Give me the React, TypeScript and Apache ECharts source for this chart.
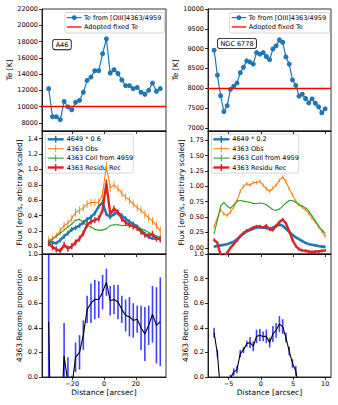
import React, { useEffect, useRef } from "react";
import * as echarts from "echarts";

// ---------- data ----------
const xLeft = [-34.8, -32.4, -30.0, -27.5, -25.1, -22.7, -20.3, -17.9, -15.4, -13.0, -10.6, -8.2, -5.8, -3.3, -0.9, 1.5, 3.9, 6.3, 8.8, 11.2, 13.6, 16.0, 18.4, 20.9, 23.3, 25.7, 28.1, 30.5, 33.0, 35.4];
const teLeft = [12210, 8750, 8750, 8400, 10630, 9960, 9610, 10520, 10760, 11760, 13220, 13630, 14410, 14410, 16500, 18330, 14130, 14530, 14070, 13270, 12570, 12570, 12200, 12360, 11760, 11520, 12000, 12890, 11890, 12210];
const teFixedLeft = 10000;

const xRight = [-7.25, -6.74, -6.24, -5.73, -5.22, -4.72, -4.21, -3.70, -3.19, -2.69, -2.18, -1.67, -1.17, -0.66, -0.15, 0.36, 0.86, 1.37, 1.88, 2.38, 2.89, 3.40, 3.90, 4.41, 4.92, 5.43, 5.93, 6.44, 6.95, 7.45, 7.96, 8.47, 8.97, 9.48, 9.99];
const teRight = [8960, 8330, 7810, 7410, 7560, 7970, 8050, 8130, 8390, 8530, 8690, 8660, 8610, 8900, 8860, 8900, 8800, 8720, 8990, 9070, 9220, 9160, 8790, 8610, 8210, 8070, 7800, 7850, 7740, 7630, 7730, 7620, 7530, 7380, 7480];
const teFixedRight = 8000;

// middle panels (left: A46)
const f4649Left = [0.06, 0.05, 0.04, 0.08, 0.13, 0.17, 0.22, 0.24, 0.27, 0.31, 0.35, 0.38, 0.43, 0.52, 0.57, 0.42, 0.38, 0.42, 0.44, 0.40, 0.36, 0.32, 0.29, 0.26, 0.21, 0.16, 0.12, 0.10, 0.10, 0.12];
const f4649LeftErr = [0.03, 0.02, 0.02, 0.03, 0.03, 0.03, 0.03, 0.03, 0.03, 0.03, 0.03, 0.03, 0.03, 0.03, 0.04, 0.03, 0.03, 0.03, 0.03, 0.03, 0.03, 0.03, 0.03, 0.02, 0.02, 0.02, 0.02, 0.02, 0.02, 0.02];
const fObsLeft = [0.08, 0.10, 0.14, 0.20, 0.27, 0.30, 0.36, 0.44, 0.47, 0.50, 0.55, 0.57, 0.57, 0.57, 0.68, 1.04, 0.76, 0.80, 0.75, 0.69, 0.64, 0.60, 0.55, 0.50, 0.47, 0.42, 0.37, 0.33, 0.27, 0.20];
const fObsLeftErr = [0.05, 0.04, 0.04, 0.05, 0.05, 0.05, 0.05, 0.05, 0.05, 0.05, 0.05, 0.05, 0.05, 0.05, 0.06, 0.06, 0.05, 0.05, 0.05, 0.05, 0.05, 0.05, 0.05, 0.05, 0.05, 0.05, 0.05, 0.05, 0.05, 0.06];
const fCollLeft = [0.06, 0.09, 0.13, 0.17, 0.21, 0.25, 0.29, 0.34, 0.35, 0.31, 0.27, 0.25, 0.22, 0.21, 0.21, 0.23, 0.27, 0.28, 0.28, 0.27, 0.27, 0.27, 0.26, 0.25, 0.23, 0.21, 0.18, 0.16, 0.13, 0.11];
const fCollLeftErr = [0.01, 0.01, 0.01, 0.01, 0.01, 0.01, 0.01, 0.01, 0.01, 0.01, 0.01, 0.01, 0.01, 0.01, 0.01, 0.01, 0.01, 0.01, 0.01, 0.01, 0.01, 0.01, 0.01, 0.01, 0.01, 0.01, 0.01, 0.01, 0.01, 0.01];
const fRecLeft = [0.04, -0.01, -0.04, -0.06, 0.02, -0.03, 0.00, 0.05, 0.10, 0.17, 0.28, 0.32, 0.34, 0.36, 0.47, 0.82, 0.42, 0.49, 0.44, 0.36, 0.31, 0.28, 0.26, 0.24, 0.19, 0.15, 0.14, 0.16, 0.10, 0.09];
const fRecLeftErr = [0.04, 0.04, 0.04, 0.04, 0.04, 0.04, 0.04, 0.04, 0.04, 0.04, 0.04, 0.04, 0.04, 0.04, 0.04, 0.05, 0.04, 0.04, 0.04, 0.04, 0.04, 0.04, 0.04, 0.04, 0.04, 0.04, 0.04, 0.04, 0.04, 0.04];

// middle panels (right: NGC 6778)
const f4649Right = [0.02, 0.03, 0.04, 0.05, 0.06, 0.08, 0.10, 0.14, 0.19, 0.23, 0.27, 0.29, 0.31, 0.33, 0.33, 0.33, 0.32, 0.31, 0.33, 0.35, 0.38, 0.36, 0.31, 0.26, 0.21, 0.17, 0.14, 0.11, 0.08, 0.06, 0.05, 0.04, 0.03, 0.02, 0.02];
const f4649RightErr = [0.01, 0.01, 0.01, 0.01, 0.01, 0.01, 0.01, 0.01, 0.01, 0.01, 0.01, 0.01, 0.01, 0.01, 0.01, 0.01, 0.01, 0.01, 0.01, 0.01, 0.01, 0.01, 0.01, 0.01, 0.01, 0.01, 0.01, 0.01, 0.01, 0.01, 0.01, 0.01, 0.01, 0.01, 0.01];
const fObsRight = [0.35, 0.48, 0.62, 0.55, 0.53, 0.58, 0.66, 0.76, 0.92, 1.00, 1.04, 1.02, 1.06, 1.06, 1.08, 1.02, 0.96, 0.92, 0.97, 1.02, 1.10, 1.15, 1.08, 0.96, 0.86, 0.76, 0.70, 0.66, 0.62, 0.56, 0.48, 0.42, 0.34, 0.27, 0.19];
const fObsRightErr = [0.03, 0.03, 0.03, 0.03, 0.03, 0.03, 0.03, 0.03, 0.03, 0.03, 0.03, 0.03, 0.03, 0.03, 0.03, 0.03, 0.03, 0.03, 0.03, 0.03, 0.03, 0.03, 0.03, 0.03, 0.03, 0.03, 0.03, 0.03, 0.03, 0.03, 0.03, 0.03, 0.03, 0.03, 0.03];
const fCollRight = [0.23, 0.45, 0.68, 0.74, 0.68, 0.64, 0.70, 0.76, 0.77, 0.76, 0.75, 0.74, 0.72, 0.72, 0.73, 0.72, 0.70, 0.66, 0.62, 0.61, 0.63, 0.68, 0.73, 0.77, 0.77, 0.74, 0.70, 0.68, 0.65, 0.60, 0.52, 0.44, 0.36, 0.29, 0.24];
const fCollRightErr = [0.005, 0.005, 0.005, 0.005, 0.005, 0.005, 0.005, 0.005, 0.005, 0.005, 0.005, 0.005, 0.005, 0.005, 0.005, 0.005, 0.005, 0.005, 0.005, 0.005, 0.005, 0.005, 0.005, 0.005, 0.005, 0.005, 0.005, 0.005, 0.005, 0.005, 0.005, 0.005, 0.005, 0.005, 0.005];
const fRecRight = [0.13, 0.08, -0.12, -0.15, -0.08, 0.00, 0.06, 0.12, 0.19, 0.24, 0.28, 0.30, 0.33, 0.35, 0.35, 0.33, 0.36, 0.30, 0.29, 0.36, 0.42, 0.46, 0.40, 0.27, 0.13, 0.03, -0.02, -0.04, -0.05, -0.06, -0.07, -0.06, -0.06, -0.05, -0.04];
const fRecRightErr = [0.025, 0.025, 0.025, 0.025, 0.025, 0.025, 0.025, 0.025, 0.025, 0.025, 0.025, 0.025, 0.025, 0.025, 0.025, 0.025, 0.025, 0.025, 0.025, 0.025, 0.025, 0.025, 0.025, 0.025, 0.025, 0.025, 0.025, 0.025, 0.025, 0.025, 0.025, 0.025, 0.025, 0.025, 0.025];

// bottom panels
const recombLeft = [0.45, -1.3, -0.8, -0.48, 0.17, -0.05, -0.09, 0.16, 0.20, 0.34, 0.55, 0.60, 0.63, 0.63, 0.69, 0.77, 0.62, 0.63, 0.61, 0.55, 0.50, 0.49, 0.46, 0.47, 0.40, 0.35, 0.42, 0.51, 0.42, 0.45];
const recombLeftErr = [0.8, 0.5, 0.5, 0.45, 0.27, 0.21, 0.1, 0.12, 0.14, 0.12, 0.11, 0.16, 0.16, 0.15, 0.14, 0.11, 0.12, 0.12, 0.14, 0.11, 0.13, 0.16, 0.14, 0.11, 0.18, 0.22, 0.16, 0.23, 0.31, 0.36];
const recombRight = [0.36, 0.19, -0.13, -0.3, -0.2, -0.01, 0.04, 0.06, 0.19, 0.22, 0.27, 0.28, 0.25, 0.33, 0.34, 0.33, 0.33, 0.28, 0.35, 0.38, 0.43, 0.41, 0.32, 0.21, 0.11, 0.05, -0.08, -0.2, -0.3, -0.35, -0.4, -0.4, -0.4, -0.35, -0.3];
const recombRightErr = [0.04, 0.03, 0.03, 0.04, 0.04, 0.03, 0.03, 0.03, 0.03, 0.025, 0.025, 0.045, 0.04, 0.055, 0.05, 0.04, 0.055, 0.04, 0.065, 0.06, 0.065, 0.06, 0.04, 0.035, 0.035, 0.04, 0.04, 0.04, 0.04, 0.04, 0.04, 0.04, 0.04, 0.04, 0.04];

// ticks
const xTicksLeft = [-20, 0, 20];
const xTicksRight = [-5, 0, 5, 10];
const teTicksLeft = [8000, 10000, 12000, 14000, 16000, 18000, 20000, 22000];
const teTicksRight = [7000, 7500, 8000, 8500, 9000, 9500, 10000];
const fluxTicksLeft = [0, 0.2, 0.4, 0.6, 0.8, 1.0, 1.2, 1.4];
const fluxTicksRight = [0, 0.25, 0.5, 0.75, 1.0, 1.25, 1.5, 1.75];
const recombTicks = [0, 0.2, 0.4, 0.6, 0.8, 1.0];

const labelsLeft = ["Te from [OIII]4363/4959", "Adopted fixed Te"];
const fluxLabelsLeft = ["4649 * 0.6", "4363 Obs", "4363 Coll from 4959", "4363 Residu Rec"];
const fluxLabelsRight = ["4649 * 0.2", "4363 Obs", "4363 Coll from 4959", "4363 Residu Rec"];

// ---------- style ----------
const FONT = "DejaVu Sans";
const C0 = "#1f77b4";
const C1 = "#ff7f0e";
const C2 = "#2ca02c";
const C3 = "#d62728";
const COLS = [
  { left: 42, width: 124, min: -39, max: 39, ticks: xTicksLeft },
  { left: 208, width: 123, min: -8.2, max: 10.9, ticks: xTicksRight },
];
const ROWS = [
  { top: 9, height: 122 },
  { top: 131, height: 123 },
  { top: 254, height: 123 },
];

const fmtMinus = (v: number, d: number) => {
  const s = Math.abs(v).toFixed(d);
  return v < 0 ? "\u2212" + s : s;
};

function xAxisCfg(gi: number, col: any, showLabels: boolean) {
  return {
    type: "value",
    gridIndex: gi,
    min: col.min,
    max: col.max,
    name: showLabels ? "Distance [arcsec]" : "",
    nameLocation: "middle",
    nameGap: 11.5,
    nameTextStyle: { fontSize: 7.5, color: "#000", fontFamily: FONT },
    axisLine: { show: true, onZero: false, lineStyle: { color: "#000", width: 0.8 } },
    axisTick: { show: true, length: 3, lineStyle: { color: "#000", width: 0.8 }, customValues: col.ticks },
    axisLabel: {
      show: showLabels,
      fontSize: 6.5,
      color: "#000",
      fontFamily: FONT,
      margin: 3,
      customValues: col.ticks,
      formatter: (v: number) => fmtMinus(v, 0),
    },
    splitLine: { show: false },
  };
}

function yAxisCfg(gi: number, min: number, max: number, ticks: number[], digits: number, name: string, nameGap: number) {
  return {
    type: "value",
    gridIndex: gi,
    min,
    max,
    name,
    nameLocation: "middle",
    nameGap,
    nameTextStyle: { fontSize: 7.5, color: "#000", fontFamily: FONT },
    axisLine: { show: true, onZero: false, lineStyle: { color: "#000", width: 0.8 } },
    axisTick: { show: true, length: 3, lineStyle: { color: "#000", width: 0.8 }, customValues: ticks },
    axisLabel: {
      show: true,
      fontSize: 6.5,
      color: "#000",
      fontFamily: FONT,
      margin: 4,
      customValues: ticks,
      formatter: (v: number) => fmtMinus(v, digits),
    },
    splitLine: { show: false },
  };
}

function lineSeries(gi: number, xs: number[], ys: number[], color: string, width: number, extra: any = {}) {
  return {
    type: "line",
    xAxisIndex: gi,
    yAxisIndex: gi,
    data: xs.map((x, i) => [x, ys[i]]),
    showSymbol: false,
    symbol: "none",
    clip: true,
    silent: true,
    lineStyle: { color, width },
    itemStyle: { color },
    ...extra,
  };
}

function errSeries(gi: number, xs: number[], ys: number[], errs: number[], color: string, width: number) {
  return {
    type: "custom",
    xAxisIndex: gi,
    yAxisIndex: gi,
    clip: true,
    silent: true,
    data: xs.map((x, i) => [x, ys[i] - errs[i], ys[i] + errs[i]]),
    encode: { x: 0, y: [1, 2] },
    renderItem: (_p: any, api: any) => {
      const a = api.coord([api.value(0), api.value(1)]);
      const b = api.coord([api.value(0), api.value(2)]);
      return {
        type: "line",
        shape: { x1: a[0], y1: a[1], x2: b[0], y2: b[1] },
        style: { stroke: color, lineWidth: width },
      };
    },
  };
}

function legendBox(x: number, y: number, w: number, h: number, rows: any[]) {
  const children: any[] = [
    {
      type: "rect",
      shape: { x, y, width: w, height: h, r: 2 },
      style: { fill: "rgba(255,255,255,0.8)", stroke: "#cccccc", lineWidth: 0.8 },
    },
  ];
  rows.forEach((r) => {
    const hx1 = x + r.h1;
    const hx2 = x + r.h2;
    const mid = (hx1 + hx2) / 2;
    children.push({
      type: "line",
      shape: { x1: hx1, y1: r.y, x2: hx2, y2: r.y },
      style: { stroke: r.color, lineWidth: r.lw },
    });
    if (r.marker === "circle") {
      children.push({ type: "circle", shape: { cx: mid, cy: r.y, r: 2.4 }, style: { fill: r.color } });
    }
    if (r.marker === "bar") {
      children.push({
        type: "line",
        shape: { x1: mid, y1: r.y - 3.5, x2: mid, y2: r.y + 3.5 },
        style: { stroke: r.color, lineWidth: r.blw },
      });
    }
    children.push({
      type: "text",
      x: x + r.tx,
      y: r.y,
      style: { text: r.text, fill: "#000", font: `6.5px "${FONT}"`, align: "left", verticalAlign: "middle" },
    });
  });
  return { type: "group", z: 100, children };
}

function annotation(x: number, y: number, text: string) {
  return {
    type: "text",
    z: 100,
    x,
    y,
    style: {
      text,
      fill: "#000",
      font: `6.5px "${FONT}"`,
      align: "center",
      verticalAlign: "middle",
      backgroundColor: "#fff",
      borderColor: "#000",
      borderWidth: 0.8,
      borderRadius: 2,
      padding: [1.5, 2.5, 1, 2.5],
    },
  };
}

export default function App() {
  const ref = useRef<HTMLDivElement>(null);

  useEffect(() => {
    if (!ref.current) return;
    const chart = echarts.init(ref.current, null, { renderer: "svg" });

    const grids: any[] = [];
    const xAxes: any[] = [];
    COLS.forEach((c, ci) => {
      ROWS.forEach((r, ri) => {
        grids.push({
          left: c.left,
          top: r.top,
          width: c.width,
          height: r.height,
          show: true,
          borderColor: "#000",
          borderWidth: 0.8,
          backgroundColor: "transparent",
          containLabel: false,
        });
        xAxes.push(xAxisCfg(ci * 3 + ri, c, ri === 2));
      });
    });

    const yAxes = [
      yAxisCfg(0, 7000, 22000, teTicksLeft, 0, "Te [K]", 28),
      yAxisCfg(1, -0.1, 1.5, fluxTicksLeft, 1, "Flux [erg/s, arbitrary scaled]", 18),
      yAxisCfg(2, 0, 1, recombTicks, 1, "4363 Recomb proportion", 18),
      yAxisCfg(3, 6920, 10000, teTicksRight, 0, "Te [K]", 26),
      yAxisCfg(4, -0.1, 1.9, fluxTicksRight, 2, "Flux [erg/s, arbitrary scaled]", 23),
      yAxisCfg(5, 0, 1, recombTicks, 1, "4363 Recomb proportion", 17),
    ];

    const teSeries = (gi: number, xs: number[], ys: number[], fixed: number, name: string) => ({
      type: "line",
      name,
      xAxisIndex: gi,
      yAxisIndex: gi,
      data: xs.map((x, i) => [x, ys[i]]),
      symbol: "circle",
      symbolSize: 5,
      showSymbol: true,
      clip: true,
      silent: true,
      lineStyle: { color: C0, width: 1.2 },
      itemStyle: { color: C0 },
      markLine: {
        silent: true,
        symbol: "none",
        label: { show: false },
        lineStyle: { color: "#ff0000", width: 1.3, type: "solid" },
        data: [{ yAxis: fixed }],
      },
    });

    const series: any[] = [
      teSeries(0, xLeft, teLeft, teFixedLeft, labelsLeft[0]),
      teSeries(3, xRight, teRight, teFixedRight, labelsLeft[0]),

      errSeries(1, xLeft, f4649Left, f4649LeftErr, C0, 1.5),
      lineSeries(1, xLeft, f4649Left, C0, 2.4),
      errSeries(1, xLeft, fObsLeft, fObsLeftErr, C1, 0.9),
      lineSeries(1, xLeft, fObsLeft, C1, 1.1),
      errSeries(1, xLeft, fCollLeft, fCollLeftErr, C2, 0.9),
      lineSeries(1, xLeft, fCollLeft, C2, 1.1),
      errSeries(1, xLeft, fRecLeft, fRecLeftErr, C3, 1.5),
      lineSeries(1, xLeft, fRecLeft, C3, 2.4),

      errSeries(4, xRight, f4649Right, f4649RightErr, C0, 1.5),
      lineSeries(4, xRight, f4649Right, C0, 2.6),
      errSeries(4, xRight, fObsRight, fObsRightErr, C1, 0.9),
      lineSeries(4, xRight, fObsRight, C1, 1.1),
      errSeries(4, xRight, fCollRight, fCollRightErr, C2, 0.9),
      lineSeries(4, xRight, fCollRight, C2, 1.1),
      errSeries(4, xRight, fRecRight, fRecRightErr, C3, 1.5),
      lineSeries(4, xRight, fRecRight, C3, 2.4),

      errSeries(2, xLeft, recombLeft, recombLeftErr, "rgba(0,0,255,0.75)", 1.6),
      lineSeries(2, xLeft, recombLeft, "#000", 1.1),
      errSeries(5, xRight, recombRight, recombRightErr, "rgba(0,0,255,0.75)", 1.6),
      lineSeries(5, xRight, recombRight, "#000", 1.1),
    ];

    const teRows = (labels: string[]) => [
      { y: 17.6, h1: 2, h2: 16.5, tx: 19, color: C0, lw: 1.2, marker: "circle", text: labels[0] },
      { y: 27.0, h1: 2, h2: 16.5, tx: 19, color: "#ff0000", lw: 1.3, text: labels[1] },
    ];
    const fluxRows = (labels: string[]) => [
      { y: 139.3, h1: 2, h2: 18, tx: 21, color: C0, lw: 2.4, blw: 1.5, marker: "bar", text: labels[0] },
      { y: 148.7, h1: 2, h2: 18, tx: 21, color: C1, lw: 1.1, blw: 0.9, marker: "bar", text: labels[1] },
      { y: 158.1, h1: 2, h2: 18, tx: 21, color: C2, lw: 1.1, blw: 0.9, marker: "bar", text: labels[2] },
      { y: 167.5, h1: 2, h2: 18, tx: 21, color: C3, lw: 2.4, blw: 1.5, marker: "bar", text: labels[3] },
    ];

    const graphic = [
      legendBox(65, 12.5, 99.5, 20.5, teRows(labelsLeft)),
      legendBox(229.7, 12.5, 99.8, 20.5, teRows(labelsLeft)),
      legendBox(45.7, 134, 87.5, 39, fluxRows(fluxLabelsLeft)),
      legendBox(211.3, 134, 87.5, 39, fluxRows(fluxLabelsRight)),
      annotation(62, 44.6, "A46"),
      annotation(237, 43.5, "NGC 6778"),
    ];

    chart.setOption({
      animation: false,
      backgroundColor: "#fff",
      textStyle: { fontFamily: FONT },
      grid: grids,
      xAxis: xAxes,
      yAxis: yAxes,
      series,
      graphic,
    });

    return () => chart.dispose();
  }, []);

  return <div ref={ref} style={{ position: "fixed", left: 0, top: 0, width: 338, height: 405 }} />;
}
